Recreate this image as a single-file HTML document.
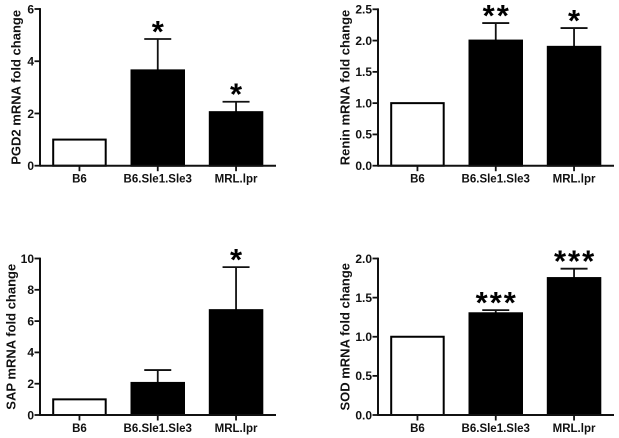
<!DOCTYPE html>
<html>
<head>
<meta charset="utf-8">
<style>
html,body{margin:0;padding:0;background:#fff;}
svg{display:block;filter:blur(0.35px);}
text{font-family:"Liberation Sans",sans-serif;font-weight:bold;fill:#111;}
</style>
</head>
<body>
<svg id="figure" width="619" height="438" viewBox="0 0 619 438" xmlns="http://www.w3.org/2000/svg"></svg>
<script>
const categories = ["B6", "B6.Sle1.Sle3", "MRL.lpr"];

const pgd2Values = [1, 3.65, 2.05];
const pgd2Errors = [0, 1.2, 0.4];
const pgd2Stars = ["", "*", "*"];
const pgd2Ticks = ["0", "2", "4", "6"];

const reninValues = [1, 2, 1.9];
const reninErrors = [0, 0.28, 0.3];
const reninStars = ["", "**", "*"];
const reninTicks = ["0.0", "0.5", "1.0", "1.5", "2.0", "2.5"];

const sapValues = [1, 2.05, 6.7];
const sapErrors = [0, 0.82, 2.75];
const sapStars = ["", "", "*"];
const sapTicks = ["0", "2", "4", "6", "8", "10"];

const sodValues = [1, 1.3, 1.75];
const sodErrors = [0, 0.04, 0.12];
const sodStars = ["", "***", "***"];
const sodTicks = ["0.0", "0.5", "1.0", "1.5", "2.0"];

const NS = "http://www.w3.org/2000/svg";
const root = document.getElementById("figure");

function make(parent, tag, attrs, txt) {
  const el = document.createElementNS(NS, tag);
  for (const k in attrs) el.setAttribute(k, attrs[k]);
  if (txt !== undefined) el.textContent = txt;
  parent.appendChild(el);
  return el;
}

function drawPanel(p) {
  const g = make(root, "g", {});
  
  
  const ticks = p.ticks.map(Number);
  const yMax = ticks[ticks.length - 1];
  const y = v => p.base - (v / yMax) * (p.base - p.top);
  const barLeft = i => p.axisX + 13.2 + i * 78.3;
  const barW = 52.5;
  const x = i => barLeft(i) + barW / 2;

  p.values.forEach((v, i) => {
    const cx = x(i);
    const topY = y(v);
    if (p.errors[i] > 0) {
      const ey = y(v + p.errors[i]);
      const stem = make(g, "line", {x1: cx, x2: cx, y1: topY, y2: ey, stroke: "#111", "stroke-width": 1.8});
      
      
      const cap = make(g, "line", {x1: cx - 13.5, x2: cx + 13.5, y1: ey, y2: ey, stroke: "#111", "stroke-width": 1.8});
      
      
    }
    const isOpen = i === 0;
    const bar = make(g, "rect", {
      x: barLeft(i), y: topY, width: barW, height: p.base - topY,
      fill: isOpen ? "#fff" : "#000", stroke: "#000", "stroke-width": 2
    });
    
    

    const tick = make(g, "line", {x1: cx, x2: cx, y1: p.base, y2: p.base + 5.5, stroke: "#111", "stroke-width": 1.8});
    
    

    const lab = make(g, "text", {x: cx, y: p.base + 17, "text-anchor": "middle", "font-size": 11.5}, categories[i]);
    
    

    if (p.stars[i]) {
      const sy = y(v + p.errors[i]) + 3;
      const st = make(g, "text", {x: cx + 1, y: sy, "text-anchor": "middle", "font-size": 31, "letter-spacing": 2, style: "fill:#000;font-weight:bold"}, p.stars[i]);
      
      
    }
  });

  p.ticks.forEach(t => {
    const ty = y(Number(t));
    const tk = make(g, "line", {x1: p.axisX - 5.5, x2: p.axisX, y1: ty, y2: ty, stroke: "#111", "stroke-width": 1.8});
    
    
    const lb = make(g, "text", {x: p.axisX - 6, y: ty + 4.3, "text-anchor": "end", "font-size": 12}, t);
    
    
  });

  const yAxis = make(g, "line", {x1: p.axisX, x2: p.axisX, y1: p.top - 0.9, y2: p.base + 0.9, stroke: "#111", "stroke-width": 2});
  
  
  const xAxis = make(g, "line", {x1: p.axisX, x2: p.axisX + 236, y1: p.base, y2: p.base, stroke: "#111", "stroke-width": 2});
  
  

  const tx = p.titleX;
  const ty = (p.top + p.base) / 2 + p.titleShift;
  const title = make(g, "text", {
    x: tx, y: ty, "text-anchor": "middle", "font-size": 13,
    transform: "rotate(-90 " + tx + " " + ty + ")"
  }, p.title);
  
  
}

drawPanel({name: "pgd2", title: "PGD2 mRNA fold change", values: pgd2Values, errors: pgd2Errors, stars: pgd2Stars, ticks: pgd2Ticks, axisX: 40, top: 9, base: 165.7, titleX: 20.5, titleShift: 0});
drawPanel({name: "renin", title: "Renin mRNA fold change", values: reninValues, errors: reninErrors, stars: reninStars, ticks: reninTicks, axisX: 378, top: 9.3, base: 165.7, titleX: 349.5, titleShift: 0});
drawPanel({name: "sap", title: "SAP mRNA fold change", values: sapValues, errors: sapErrors, stars: sapStars, ticks: sapTicks, axisX: 40, top: 258.5, base: 415, titleX: 15.5, titleShift: 0});
drawPanel({name: "sod", title: "SOD mRNA fold change", values: sodValues, errors: sodErrors, stars: sodStars, ticks: sodTicks, axisX: 378, top: 258.5, base: 415, titleX: 349.5, titleShift: 0});
</script>
</body>
</html>
